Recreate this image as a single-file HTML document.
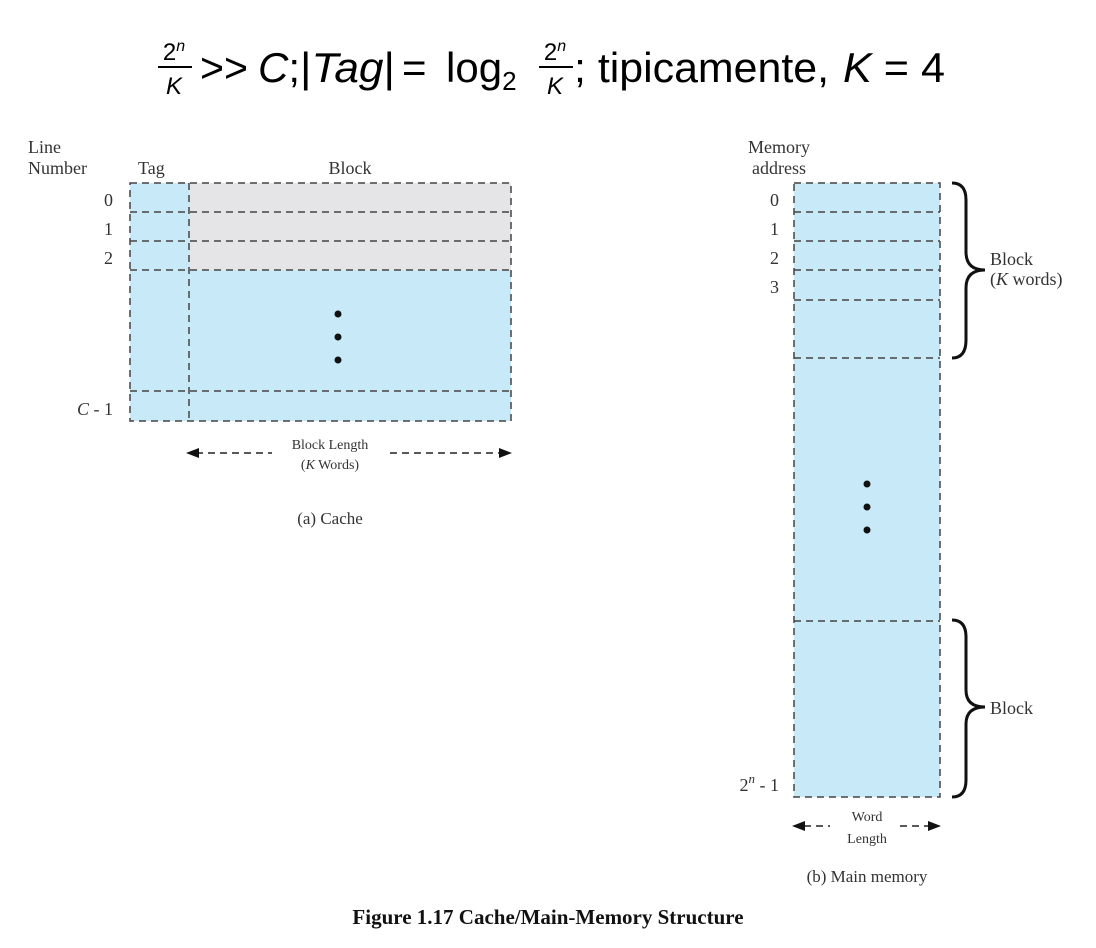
<!DOCTYPE html>
<html><head><meta charset="utf-8"><style>
html,body{margin:0;padding:0;background:#fff;}
svg{display:block;}
.s{font-family:"Liberation Serif",serif;fill:#333;}
.m{font-family:"Liberation Sans",sans-serif;fill:#000;}
</style></head><body>
<svg width="1096" height="948" viewBox="0 0 1096 948" xmlns="http://www.w3.org/2000/svg">
<!-- formula -->
<g class="m">
<text x="174" y="60" font-size="24" text-anchor="middle">2<tspan font-size="16" dy="-9" font-style="italic">n</tspan></text>
<line x1="158" y1="67" x2="192" y2="67" stroke="#000" stroke-width="2"/>
<text x="174" y="94" font-size="24" text-anchor="middle" font-style="italic">K</text>
<text x="200" y="82" font-size="42" textLength="48" lengthAdjust="spacingAndGlyphs">&gt;&gt;</text>
<text x="258" y="82" font-size="42"><tspan font-style="italic">C</tspan>;</text>
<text x="300" y="82" font-size="42" textLength="95" lengthAdjust="spacingAndGlyphs">|<tspan font-style="italic">Tag</tspan>|</text>
<text x="402" y="82" font-size="42">=</text>
<text x="446" y="82" font-size="42">log<tspan font-size="26" dy="8">2</tspan></text>
<text x="555" y="60" font-size="24" text-anchor="middle">2<tspan font-size="16" dy="-9" font-style="italic">n</tspan></text>
<line x1="539" y1="67" x2="573" y2="67" stroke="#000" stroke-width="2"/>
<text x="555" y="94" font-size="24" text-anchor="middle" font-style="italic">K</text>
<text x="574" y="82" font-size="42" textLength="255" lengthAdjust="spacingAndGlyphs">; tipicamente,</text>
<text x="843" y="82" font-size="42" textLength="102" lengthAdjust="spacingAndGlyphs"><tspan font-style="italic">K</tspan> = 4</text>
</g>

<!-- cache -->
<rect x="130" y="183" width="381" height="238" fill="#c8e9f8"/>
<rect x="189" y="183" width="322" height="87" fill="#e5e5e7"/>
<g stroke="#444" stroke-width="1.5" stroke-dasharray="7,5" fill="none">
<rect x="130" y="183" width="381" height="238"/>
<line x1="189" y1="183" x2="189" y2="421"/>
<line x1="130" y1="212" x2="511" y2="212"/>
<line x1="130" y1="241" x2="511" y2="241"/>
<line x1="130" y1="270" x2="511" y2="270"/>
<line x1="130" y1="391" x2="511" y2="391"/>
</g>
<circle cx="338" cy="314" r="3.5" fill="#111"/>
<circle cx="338" cy="337" r="3.5" fill="#111"/>
<circle cx="338" cy="360" r="3.5" fill="#111"/>
<g class="s" font-size="18">
<text x="28" y="153">Line</text>
<text x="28" y="174">Number</text>
<text x="138" y="174">Tag</text>
<text x="350" y="174" text-anchor="middle">Block</text>
<text x="113" y="206" text-anchor="end">0</text>
<text x="113" y="235" text-anchor="end">1</text>
<text x="113" y="264" text-anchor="end">2</text>
<text x="113" y="415" text-anchor="end"><tspan font-style="italic">C</tspan> - 1</text>
<text x="330" y="449" text-anchor="middle" font-size="14">Block Length</text>
<text x="330" y="469" text-anchor="middle" font-size="14">(<tspan font-style="italic">K</tspan> Words)</text>
<text x="330" y="524" text-anchor="middle" font-size="17">(a) Cache</text>
</g>
<g stroke="#222" stroke-width="1.5" stroke-dasharray="7,5">
<line x1="196" y1="453" x2="272" y2="453"/>
<line x1="390" y1="453" x2="502" y2="453"/>
</g>
<path d="M186,453 L199,448 L199,458Z M512,453 L499,448 L499,458Z" fill="#111"/>

<!-- main memory -->
<rect x="794" y="183" width="146" height="614" fill="#c8e9f8"/>
<g stroke="#444" stroke-width="1.5" stroke-dasharray="7,5" fill="none">
<rect x="794" y="183" width="146" height="614"/>
<line x1="794" y1="212" x2="940" y2="212"/>
<line x1="794" y1="241" x2="940" y2="241"/>
<line x1="794" y1="270" x2="940" y2="270"/>
<line x1="794" y1="300" x2="940" y2="300"/>
<line x1="794" y1="358" x2="940" y2="358"/>
<line x1="794" y1="621" x2="940" y2="621"/>
</g>
<circle cx="867" cy="484" r="3.5" fill="#111"/>
<circle cx="867" cy="507" r="3.5" fill="#111"/>
<circle cx="867" cy="530" r="3.5" fill="#111"/>
<g fill="none" stroke="#111" stroke-width="3">
<path d="M952,183 Q966,183 966,200 L966,252 Q966,270 985,270 Q966,270 966,288 L966,340 Q966,358 952,358"/>
<path d="M952,620 Q966,620 966,637 L966,690 Q966,707 985,707 Q966,707 966,724 L966,780 Q966,797 952,797"/>
</g>
<g class="s" font-size="18">
<text x="748" y="153">Memory</text>
<text x="752" y="174">address</text>
<text x="779" y="206" text-anchor="end">0</text>
<text x="779" y="235" text-anchor="end">1</text>
<text x="779" y="264" text-anchor="end">2</text>
<text x="779" y="293" text-anchor="end">3</text>
<text x="779" y="791" text-anchor="end">2<tspan font-size="13" dy="-8" font-style="italic">n</tspan><tspan dy="8"> - 1</tspan></text>
<text x="990" y="265">Block</text>
<text x="990" y="285">(<tspan font-style="italic">K</tspan> words)</text>
<text x="990" y="714">Block</text>
<text x="867" y="821" text-anchor="middle" font-size="14">Word</text>
<text x="867" y="843" text-anchor="middle" font-size="14">Length</text>
<text x="867" y="882" text-anchor="middle" font-size="17">(b) Main memory</text>
</g>
<g stroke="#222" stroke-width="1.5" stroke-dasharray="7,5">
<line x1="804" y1="826" x2="830" y2="826"/>
<line x1="900" y1="826" x2="930" y2="826"/>
</g>
<path d="M792,826 L805,821 L805,831Z M941,826 L928,821 L928,831Z" fill="#111"/>

<text x="548" y="924" text-anchor="middle" font-family="Liberation Serif,serif" font-weight="bold" font-size="21" fill="#111">Figure 1.17  Cache/Main-Memory Structure</text>
</svg>
</body></html>
